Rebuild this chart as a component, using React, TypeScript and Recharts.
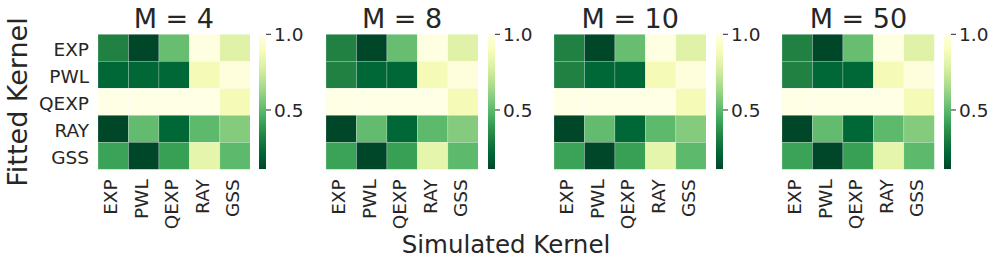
import React from "react";
import { ScatterChart, Scatter, XAxis, YAxis, BarChart, Bar } from "recharts";

const simulatedKernels = ["EXP", "PWL", "QEXP", "RAY", "GSS"];
const fittedKernels = ["EXP", "PWL", "QEXP", "RAY", "GSS"];
const panelTitles = ["M = 4", "M = 8", "M = 10", "M = 50"];

// rows = fitted kernel, columns = simulated kernel
const valuesM4 = [
  [0.32, 0.11, 0.52, 0.99, 0.8],
  [0.22, 0.22, 0.22, 0.88, 0.98],
  [1.0, 1.0, 1.0, 1.0, 0.88],
  [0.11, 0.51, 0.22, 0.5, 0.58],
  [0.42, 0.11, 0.41, 0.82, 0.5],
];
const valuesM8 = [
  [0.32, 0.11, 0.52, 0.99, 0.8],
  [0.32, 0.22, 0.22, 0.88, 0.98],
  [1.0, 1.0, 1.0, 1.0, 0.88],
  [0.11, 0.51, 0.22, 0.5, 0.58],
  [0.42, 0.11, 0.41, 0.82, 0.5],
];
const valuesM10 = [
  [0.32, 0.11, 0.52, 0.99, 0.8],
  [0.32, 0.22, 0.22, 0.88, 0.98],
  [1.0, 1.0, 1.0, 1.0, 0.88],
  [0.11, 0.51, 0.22, 0.5, 0.58],
  [0.42, 0.11, 0.41, 0.82, 0.5],
];
const valuesM50 = [
  [0.32, 0.11, 0.52, 0.99, 0.8],
  [0.32, 0.22, 0.22, 0.88, 0.98],
  [1.0, 1.0, 1.0, 1.0, 0.88],
  [0.11, 0.51, 0.22, 0.5, 0.58],
  [0.42, 0.11, 0.41, 0.82, 0.5],
];
const panelValues = [valuesM4, valuesM8, valuesM10, valuesM50];

const colorbarMin = 0.108;
const colorbarMax = 1.0;
const colorbarTicks = [0.5, 1.0];

// YlGn colormap stops (light -> dark); reversed use
const ylGn = [
  [255, 255, 229],
  [247, 252, 185],
  [217, 240, 163],
  [173, 221, 142],
  [120, 198, 121],
  [65, 171, 93],
  [35, 132, 67],
  [0, 104, 55],
  [0, 69, 41],
];

function colorFor(v: number) {
  let t = (v - colorbarMin) / (colorbarMax - colorbarMin);
  t = Math.max(0, Math.min(1, t));
  const p = (1 - t) * (ylGn.length - 1);
  const i = Math.min(ylGn.length - 2, Math.floor(p));
  const f = p - i;
  const a = ylGn[i];
  const b = ylGn[i + 1];
  const c = a.map((x, k) => Math.round(x + (b[k] - x) * f));
  return `rgb(${c[0]},${c[1]},${c[2]})`;
}

const FONT = "'DejaVu Sans', sans-serif";
const TEXT = "#262626";
const TICK_FS = 18.5;

const PLOT_LEFT = [97.7, 325.9, 554.1, 782.3];
const PLOT_W = 152.3;
const PLOT_TOP = 34.3;
const PLOT_H = 135;
const Y_AXIS_W = 80;
const X_AXIS_H = 70;
const CHART_H = 266;
const CB_LEFT = [259.3, 487.5, 715.7, 943.5];
const CB_W = 7;

const cellW = PLOT_W / 5;
const cellH = PLOT_H / 5;

const XTick = (props: any) => {
  const { x, y, payload } = props;
  const label = simulatedKernels[Math.floor(payload.value)];
  const tx = x - 2.5;
  return (
    <text
      x={tx}
      y={y}
      transform={`rotate(-90 ${tx} ${y})`}
      textAnchor="end"
      dominantBaseline="central"
      fontSize={TICK_FS}
      fontFamily={FONT}
      fill={TEXT}
    >
      {label}
    </text>
  );
};

const YTick = (props: any) => {
  const { x, y, payload } = props;
  const label = fittedKernels[Math.floor(payload.value)];
  return (
    <text
      x={x}
      y={y + 1.5}
      textAnchor="end"
      dominantBaseline="central"
      fontSize={TICK_FS}
      fontFamily={FONT}
      fill={TEXT}
    >
      {label}
    </text>
  );
};

const CellShape = (props: any) => {
  const { cx, cy, payload } = props;
  return (
    <rect
      x={cx - cellW / 2}
      y={cy - cellH / 2}
      width={cellW}
      height={cellH}
      fill={colorFor(payload.v)}
      stroke="#ffffff"
      strokeOpacity={0.35}
      strokeWidth={0.6}
    />
  );
};

function Heatmap({ index }: { index: number }) {
  const values = panelValues[index];
  const data: { x: number; y: number; v: number }[] = [];
  values.forEach((row, r) =>
    row.forEach((v, c) => data.push({ x: c + 0.5, y: r + 0.5, v }))
  );
  const width = Y_AXIS_W + PLOT_W;
  return (
    <div style={{ position: "absolute", left: PLOT_LEFT[index] - Y_AXIS_W, top: 0 }}>
      <ScatterChart
        width={width}
        height={CHART_H}
        margin={{ top: PLOT_TOP, right: 0, left: 0, bottom: CHART_H - PLOT_TOP - PLOT_H - X_AXIS_H }}
      >
        <XAxis
          type="number"
          dataKey="x"
          domain={[0, 5]}
          ticks={[0.5, 1.5, 2.5, 3.5, 4.5]}
          interval={0}
          axisLine={false}
          tickLine={false}
          tickSize={0}
          tickMargin={10}
          height={X_AXIS_H}
          tick={<XTick />}
        />
        <YAxis
          type="number"
          dataKey="y"
          domain={[0, 5]}
          reversed
          ticks={[0.5, 1.5, 2.5, 3.5, 4.5]}
          interval={0}
          axisLine={false}
          tickLine={false}
          tickSize={0}
          tickMargin={9}
          width={Y_AXIS_W}
          tick={index === 0 ? <YTick /> : false}
        />
        <Scatter data={data} shape={<CellShape />} isAnimationActive={false} />
      </ScatterChart>
    </div>
  );
}

function Colorbar({ index }: { index: number }) {
  const id = `cbGrad${index}`;
  const data = [{ name: "cb", range: [colorbarMin, colorbarMax] }];
  const axisW = 45;
  return (
    <div style={{ position: "absolute", left: CB_LEFT[index], top: 0 }}>
      <BarChart
        width={CB_W + axisW}
        height={CHART_H}
        data={data}
        barCategoryGap={0}
        margin={{ top: PLOT_TOP, right: 0, left: 0, bottom: CHART_H - PLOT_TOP - PLOT_H }}
      >
        <defs>
          <linearGradient id={id} x1="0" y1="0" x2="0" y2="1">
            {ylGn.map((c, i) => (
              <stop key={i} offset={i / (ylGn.length - 1)} stopColor={`rgb(${c[0]},${c[1]},${c[2]})`} />
            ))}
          </linearGradient>
        </defs>
        <XAxis dataKey="name" type="category" hide />
        <YAxis
          type="number"
          orientation="right"
          domain={[colorbarMin, colorbarMax]}
          allowDataOverflow
          ticks={colorbarTicks}
          interval={0}
          tickFormatter={(v: number) => v.toFixed(1)}
          axisLine={false}
          tickLine={{ stroke: TEXT, strokeWidth: 1 }}
          tickSize={5}
          tickMargin={3}
          width={axisW}
          tick={{ fontSize: TICK_FS, fontFamily: FONT, fill: TEXT }}
        />
        <Bar dataKey="range" fill={`url(#${id})`} isAnimationActive={false} />
      </BarChart>
    </div>
  );
}

export default function App() {
  return (
    <div
      style={{
        position: "absolute",
        left: 0,
        top: 0,
        width: 997,
        height: 266,
        background: "#ffffff",
        overflow: "hidden",
      }}
    >
      {panelTitles.map((_, i) => (
        <Heatmap key={`h${i}`} index={i} />
      ))}
      {panelTitles.map((_, i) => (
        <Colorbar key={`c${i}`} index={i} />
      ))}
      <svg
        width={997}
        height={266}
        style={{ position: "absolute", left: 0, top: 0, pointerEvents: "none" }}
      >
        {panelTitles.map((t, i) => (
          <text
            key={t}
            x={PLOT_LEFT[i] + PLOT_W / 2}
            y={28}
            textAnchor="middle"
            fontSize={27}
            fontFamily={FONT}
            fill={TEXT}
          >
            {t}
          </text>
        ))}
        <text
          x={27}
          y={102}
          transform="rotate(-90 27 102)"
          textAnchor="middle"
          fontSize={27}
          fontFamily={FONT}
          fill={TEXT}
        >
          Fitted Kernel
        </text>
        <text
          x={506}
          y={253}
          textAnchor="middle"
          fontSize={24.5}
          fontFamily={FONT}
          fill={TEXT}
        >
          Simulated Kernel
        </text>
      </svg>
    </div>
  );
}
